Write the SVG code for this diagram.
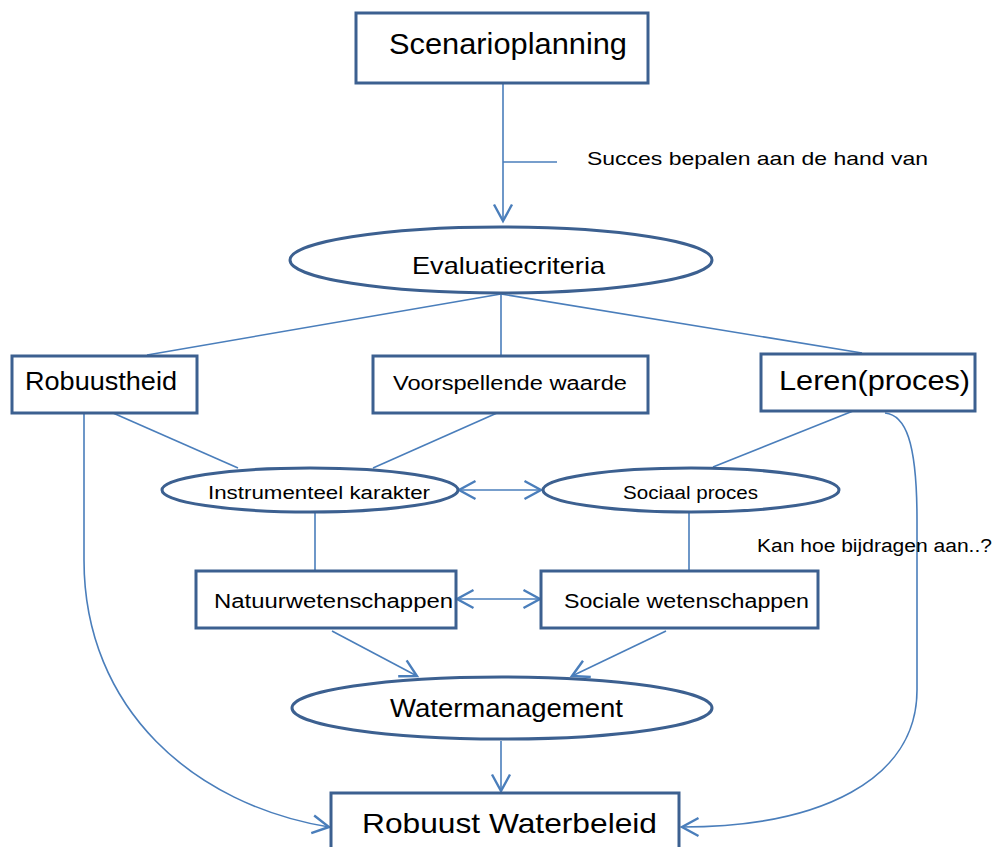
<svg xmlns="http://www.w3.org/2000/svg" width="995" height="847" viewBox="0 0 995 847">
<style>
.box{fill:#fff;stroke:#3c6090;stroke-width:3}
.con{fill:none;stroke:#4a7ebb;stroke-width:1.6}
text{font-family:"Liberation Sans",Arial,sans-serif;fill:#000}
</style>
<defs>
<marker id="arr" markerUnits="userSpaceOnUse" markerWidth="24" markerHeight="24" viewBox="-14 -8 16 16" refX="0" refY="0" orient="auto-start-reverse">
<path d="M-11,-6 L0,0 L-11,6" fill="none" stroke="#4a7ebb" stroke-width="1.6"/>
</marker>
</defs>
<rect width="995" height="847" fill="#fff"/>
<g id="connectors">
<path class="con" d="M503,83 L503,221" marker-end="url(#arr)"/>
<path class="con" d="M503,162 L557,162"/>
<path class="con" d="M501,294 L147,355"/>
<path class="con" d="M501,294 L501,356"/>
<path class="con" d="M501,294 L862,353"/>
<path class="con" d="M113,413 L238,468"/>
<path class="con" d="M497,413 L373,468"/>
<path class="con" d="M853,411 L713,467"/>
<path class="con" d="M459,490 L541,490" marker-start="url(#arr)" marker-end="url(#arr)"/>
<path class="con" d="M315,513 L315,571"/>
<path class="con" d="M689,513 L689,571"/>
<path class="con" d="M457,599 L540,599" marker-start="url(#arr)" marker-end="url(#arr)"/>
<path class="con" d="M332,631 L417,676" marker-end="url(#arr)"/>
<path class="con" d="M666,631 L572,676" marker-end="url(#arr)"/>
<path class="con" d="M501,741 L501,791" marker-end="url(#arr)"/>
<path class="con" d="M84,413 L84,560 C84,710 195,805 329,827" marker-end="url(#arr)"/>
<path class="con" d="M885,413 C905,415 917,440 917,520 L917,690 C917,780 820,827 682,827" marker-end="url(#arr)"/>
</g>
<g id="scenarioplanning">
<rect class="box" x="356" y="13" width="292" height="70"/>
<text x="389" y="54" font-size="29" textLength="238" lengthAdjust="spacingAndGlyphs">Scenarioplanning</text>
</g>
<g id="label-succes">
<text x="587" y="165" font-size="19" textLength="341" lengthAdjust="spacingAndGlyphs">Succes bepalen aan de hand van</text>
</g>
<g id="evaluatiecriteria">
<ellipse class="box" cx="501" cy="260" rx="211" ry="33"/>
<text x="412" y="274" font-size="24" textLength="193" lengthAdjust="spacingAndGlyphs">Evaluatiecriteria</text>
</g>
<g id="robuustheid">
<rect class="box" x="12" y="356" width="185" height="57"/>
<text x="25" y="390" font-size="25" textLength="152" lengthAdjust="spacingAndGlyphs">Robuustheid</text>
</g>
<g id="voorspellende">
<rect class="box" x="373" y="356" width="275" height="57"/>
<text x="393" y="390" font-size="20" textLength="234" lengthAdjust="spacingAndGlyphs">Voorspellende waarde</text>
</g>
<g id="leren">
<rect class="box" x="761" y="354" width="214" height="57"/>
<text x="779" y="390" font-size="27" textLength="191" lengthAdjust="spacingAndGlyphs">Leren(proces)</text>
</g>
<g id="instrumenteel">
<ellipse class="box" cx="310" cy="490" rx="148" ry="22"/>
<text x="208" y="499" font-size="18" textLength="222" lengthAdjust="spacingAndGlyphs">Instrumenteel karakter</text>
</g>
<g id="sociaal-proces">
<ellipse class="box" cx="691" cy="490" rx="148" ry="22"/>
<text x="623" y="499" font-size="18" textLength="135" lengthAdjust="spacingAndGlyphs">Sociaal proces</text>
</g>
<g id="label-kan">
<text x="757" y="552" font-size="18" textLength="235" lengthAdjust="spacingAndGlyphs">Kan hoe bijdragen aan..?</text>
</g>
<g id="natuurwetenschappen">
<rect class="box" x="196" y="571" width="260" height="57"/>
<text x="214" y="608" font-size="20" textLength="239" lengthAdjust="spacingAndGlyphs">Natuurwetenschappen</text>
</g>
<g id="sociale-wetenschappen">
<rect class="box" x="541" y="571" width="277" height="57"/>
<text x="564" y="608" font-size="20" textLength="245" lengthAdjust="spacingAndGlyphs">Sociale wetenschappen</text>
</g>
<g id="watermanagement">
<ellipse class="box" cx="502" cy="708" rx="210" ry="31"/>
<text x="390" y="717" font-size="25" textLength="233" lengthAdjust="spacingAndGlyphs">Watermanagement</text>
</g>
<g id="robuust-waterbeleid">
<rect class="box" x="331" y="793" width="348" height="70"/>
<text x="362" y="833" font-size="28" textLength="295" lengthAdjust="spacingAndGlyphs">Robuust Waterbeleid</text>
</g>
</svg>
